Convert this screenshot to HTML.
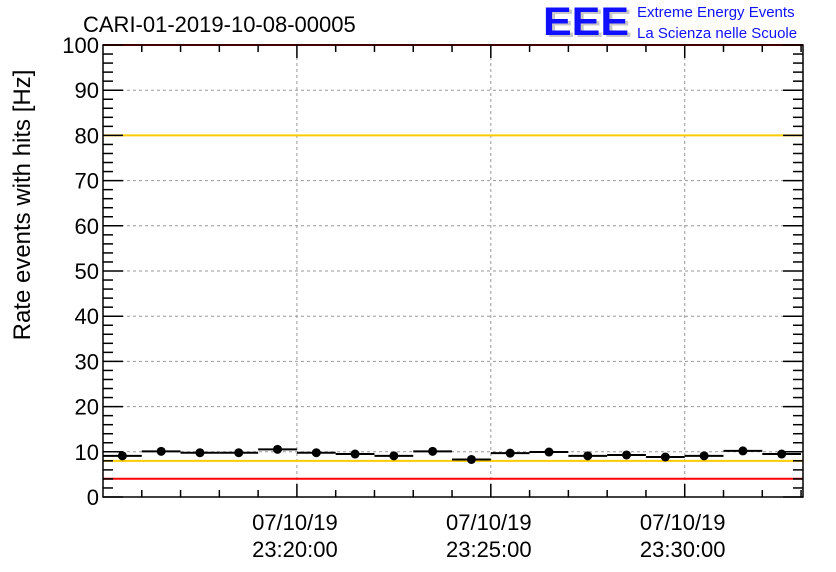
<!DOCTYPE html>
<html><head><meta charset="utf-8"><style>
body{margin:0;background:#fff;}
svg{display:block;font-family:"Liberation Sans",sans-serif;}
</style></head><body>
<svg id="c" width="836" height="572">
<text x="83" y="32" font-size="22" fill="#000">CARI-01-2019-10-08-00005</text>
<g>
<text x="546" y="37" font-size="40" font-weight="bold" fill="#c8c8c8" textLength="86" lengthAdjust="spacingAndGlyphs">EEE</text>
<text x="543" y="35" font-size="40" font-weight="bold" fill="#1010ff" textLength="86" lengthAdjust="spacingAndGlyphs">EEE</text>
<text x="637" y="17" font-size="15" fill="#1010ff">Extreme Energy Events</text>
<text x="637" y="38" font-size="15" fill="#1010ff">La Scienza nelle Scuole</text>
</g>
<g id="grid"></g>
<g id="axes"></g>
<g id="marks"></g>
<text transform="translate(30,205) rotate(-90)" text-anchor="middle" font-size="24">Rate events with hits [Hz]</text>
</svg>
<script>
const binCentersSec=[30,90,150,210,270,330,390,450,510,570,630,690,750,810,870,930,990,1050];
const rates=[9.1,10.1,9.8,9.8,10.55,9.8,9.5,9.1,10.1,8.3,9.7,9.95,9.1,9.3,8.85,9.1,10.2,9.5];
const yTicks=[0,10,20,30,40,50,60,70,80,90,100];
const xMajorSec=[300,600,900];
const xMajorLabels=[["07/10/19","23:20:00"],["07/10/19","23:25:00"],["07/10/19","23:30:00"]];
const refLines=[{v:100,c:"#ff0000"},{v:80,c:"#ffcc00"},{v:8,c:"#ffcc00"},{v:4.05,c:"#ff0000"}];
const binWidthSec=60;

const L=103,R=803,T=45,B=497,xMax=1083;
const X=s=>L+s/xMax*(R-L);
const Y=v=>B-v/100*(B-T);
const ns="http://www.w3.org/2000/svg";
function mk(p,t,a){const e=document.createElementNS(ns,t);for(const k in a)e.setAttribute(k,a[k]);p.appendChild(e);return e;}
const g=document.getElementById('grid'),ax=document.getElementById('axes'),m=document.getElementById('marks');
yTicks.forEach(v=>{if(v>0&&v<100){const l=mk(g,'line',{x1:L,x2:R,y1:Y(v),y2:Y(v),stroke:'#999','stroke-dasharray':'3,3'});

}});
xMajorSec.forEach(s=>{const l=mk(g,'line',{x1:X(s),x2:X(s),y1:T,y2:B,stroke:'#999','stroke-dasharray':'3,3'});

});
refLines.forEach(r=>{const l=mk(g,'line',{x1:L,x2:R,y1:Y(r.v),y2:Y(r.v),stroke:r.c,'stroke-width':2});

});
const fr=mk(ax,'rect',{x:L,y:T,width:R-L,height:B-T,fill:'none',stroke:'#000','stroke-width':1.5});


for(let v=0;v<=100;v+=2){const maj=v%10===0,len=maj?20:10;
mk(ax,'line',{x1:L,x2:L+len,y1:Y(v),y2:Y(v),stroke:'#000','stroke-width':1.5});
mk(ax,'line',{x1:R,x2:R-len,y1:Y(v),y2:Y(v),stroke:'#000','stroke-width':1.5});}
yTicks.forEach(v=>{const t=mk(ax,'text',{x:L-4,y:Y(v)+8,'text-anchor':'end','font-size':22});t.textContent=v;

});
for(let s=60;s<xMax;s+=60){const maj=s%300===0,len=maj?13:7;
mk(ax,'line',{x1:X(s),x2:X(s),y1:B,y2:B-len,stroke:'#000','stroke-width':1.5});
mk(ax,'line',{x1:X(s),x2:X(s),y1:T,y2:T+len,stroke:'#000','stroke-width':1.5});}
xMajorSec.forEach((s,i)=>{xMajorLabels[i].forEach((ln,j)=>{const t=mk(ax,'text',{x:X(s)-2,y:530+j*27,'text-anchor':'middle','font-size':22});t.textContent=ln;

});});
binCentersSec.forEach((s,i)=>{const y=Y(rates[i]);
const l=mk(m,'line',{x1:X(s-binWidthSec/2),x2:X(s+binWidthSec/2),y1:y,y2:y,stroke:'#000','stroke-width':2});


const c=mk(m,'circle',{cx:X(s),cy:y,r:4.5,fill:'#000'});

});
</script>
</body></html>
